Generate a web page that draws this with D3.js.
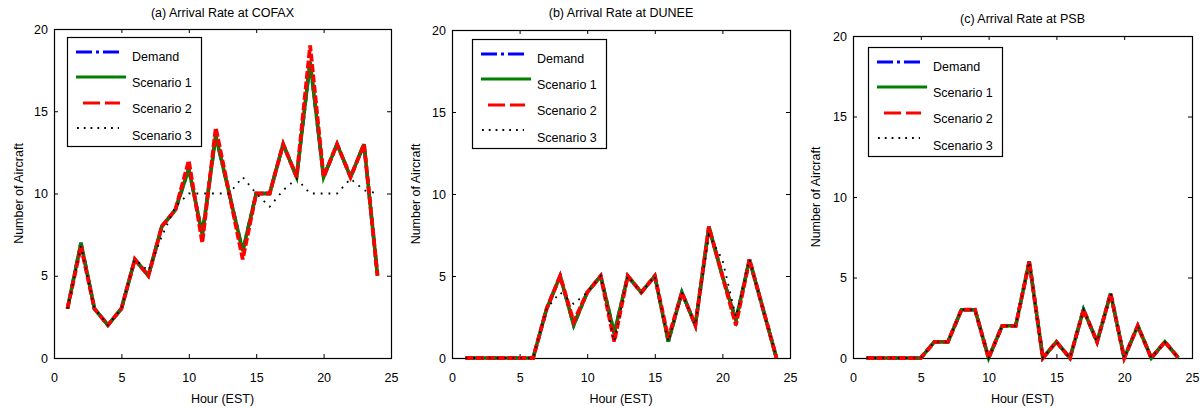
<!DOCTYPE html>
<html>
<head>
<meta charset="utf-8">
<script src="https://cdn.jsdelivr.net/npm/d3@7"></script>
<style>
  html, body { margin: 0; padding: 0; background: #fff; }
  svg { display: block; }
  text { font-family: "Liberation Sans", Arial, sans-serif; fill: #000; }
</style>
</head>
<body>
<svg id="chart" width="1202" height="410"></svg>
<script>
// ---------- DATA ----------
const hours = [1,2,3,4,5,6,7,8,9,10,11,12,13,14,15,16,17,18,19,20,21,22,23,24];
const xTicks = [0,5,10,15,20,25];
const yTicks = [0,5,10,15,20];
const seriesNames = ["Demand", "Scenario 1", "Scenario 2", "Scenario 3"];
const panelTitles = ["(a) Arrival Rate at COFAX", "(b) Arrival Rate at DUNEE", "(c) Arrival Rate at PSB"];
const xLabel = "Hour (EST)";
const yLabel = "Number of Aircraft";

// (a) COFAX
const demandA = [3,7,3,2,3,6,5,8,9,11.5,7.5,13.5,10,6.5,10,10,13,11,18,11,13,11,13,5];
const s1A     = [3,7,3,2,3,6,5,8,9,11.5,7.5,13.5,10,6.5,10,10,13,11,18,11,13,11,13,5];
const s2A     = [3,6.8,3,2,3,6,5,8,9,12,7,14,10,6,10,10,13,11,19,11,13,11,13,5];
const s3A     = [3,6.8,3,2,3,6,5.3,7.4,9.2,10,10,10,10,11,10,9.2,10.2,10.9,10,10,10,10.9,10.2,10];

// (b) DUNEE
const demandB = [0,0,0,0,0,0,3,5,2,4,5,1.5,5,4,5,1,4,2,8,5,2.3,6,3,0];
const s1B     = [0,0,0,0,0,0,3,5,2,4,5,1.5,5,4,5,1,4,2,8,5,2.3,6,3,0];
const s2B     = [0,0,0,0,0,0,3,5,2.2,4,5,1,5,4,5,1.2,4,2,8,5,2,6,3,0];
const s3B     = [0,0,0,0,0,0,3,4,3.3,4,5,1,5,4,5,1,4,2,7.5,6,2.5,6,3,0];

// (c) PSB
const demandC = [0,0,0,0,0,1,1,3,3,0,2,2,6,0,1,0,3,1,4,0,2,0,1,0];
const s1C     = [0,0,0,0,0,1,1,3,3,0,2,2,6,0,1,0,3,1,4,0,2,0,1,0];
const s2C     = [0,0,0,0,0,1,1,3,3,0,2,2,6,0,1,0,3,1,4,0,2,0,1,0];
const s3C     = [0,0,0,0,0,1,1,3,3,0,2,2,6,0,1,0,3,1,4,0,2,0,1,0];

// ---------- LAYOUT / STYLE ----------
const panels = [
  { title: panelTitles[0], series: [demandA, s1A, s2A, s3A],
    x0: 54, x1: 391, y0: 29, y1: 358, titleY: 16.5, yLabX: 18,
    leg: { x: 67, y: 37 } },
  { title: panelTitles[1], series: [demandB, s1B, s2B, s3B],
    x0: 452, x1: 790, y0: 30, y1: 358, titleY: 16.5, yLabX: 415,
    leg: { x: 472, y: 39 } },
  { title: panelTitles[2], series: [demandC, s1C, s2C, s3C],
    x0: 853, x1: 1192, y0: 36, y1: 358, titleY: 22.5, yLabX: 815,
    leg: { x: 868, y: 47 } }
];

const styles = [
  { color: "#0000ff", width: 3.4, dash: "10,4,3,4", legDash: "16,4,3,4" },
  { color: "#008000", width: 3.6, dash: null,       legDash: null },
  { color: "#ff0000", width: 3.8, dash: "8,2.5",    legDash: "17,5" },
  { color: "#000000", width: 1.8, dash: "1.8,6",    legDash: "1.8,5" }
];
const legLines = [
  { x1: 9, x2: 54 }, { x1: 9, x2: 59 }, { x1: 16, x2: 53 }, { x1: 10, x2: 52 }
];
const legLineY = [15, 40, 66, 91];
const legTextY = [19, 45, 71.5, 98];
const FS = "12.5px";

const svg = d3.select("#chart");

panels.forEach(p => {
  const g = svg.append("g");
  const x = d3.scaleLinear().domain([0, 25]).range([p.x0, p.x1]);
  const y = d3.scaleLinear().domain([0, 20]).range([p.y1, p.y0]);

  // axes with inward ticks
  const bottom = g.append("g").attr("transform", `translate(0,${p.y1})`)
    .call(d3.axisBottom(x).tickValues(xTicks).tickFormat(d3.format("d"))
      .tickSizeInner(-4).tickSizeOuter(0).tickPadding(15));
  const top = g.append("g").attr("transform", `translate(0,${p.y0})`)
    .call(d3.axisTop(x).tickValues(xTicks).tickFormat("")
      .tickSizeInner(-4).tickSizeOuter(0));
  const left = g.append("g").attr("transform", `translate(${p.x0},0)`)
    .call(d3.axisLeft(y).tickValues(yTicks).tickFormat(d3.format("d"))
      .tickSizeInner(-4).tickSizeOuter(0).tickPadding(6));
  const right = g.append("g").attr("transform", `translate(${p.x1},0)`)
    .call(d3.axisRight(y).tickValues(yTicks).tickFormat("")
      .tickSizeInner(-4).tickSizeOuter(0));
  [bottom, top, left, right].forEach(a => {
    a.select(".domain").remove();
    a.selectAll("line").attr("stroke", "#000").attr("stroke-width", 1);
    a.selectAll("text").style("font-size", FS).attr("fill", "#000")
      .style("font-family", '"Liberation Sans", Arial, sans-serif');
  });

  // frame
  g.append("rect")
    .attr("x", p.x0 + 0.5).attr("y", p.y0 + 0.5)
    .attr("width", p.x1 - p.x0).attr("height", p.y1 - p.y0)
    .attr("fill", "none").attr("stroke", "#000").attr("stroke-width", 1.2);

  // lines
  const line = d3.line().x((d, i) => x(hours[i])).y(d => y(d));
  p.series.forEach((vals, si) => {
    const st = styles[si];
    g.append("path").datum(vals)
      .attr("d", line)
      .attr("fill", "none")
      .attr("stroke", st.color)
      .attr("stroke-width", st.width)
      .attr("stroke-linejoin", "miter")
      .attr("stroke-dasharray", st.dash);
  });

  // titles and labels
  g.append("text").attr("x", (p.x0 + p.x1) / 2).attr("y", p.titleY)
    .attr("text-anchor", "middle").style("font-size", FS).text(p.title);
  g.append("text").attr("x", (p.x0 + p.x1) / 2).attr("y", 402.5)
    .attr("text-anchor", "middle").style("font-size", FS).text(xLabel);
  g.append("text")
    .attr("transform", `translate(${p.yLabX + 4.5},${(p.y0 + p.y1) / 2}) rotate(-90)`)
    .attr("text-anchor", "middle").style("font-size", FS).text(yLabel);

  // legend
  const lg = g.append("g").attr("transform", `translate(${p.leg.x},${p.leg.y})`);
  lg.append("rect").attr("x", 0.5).attr("y", 0.5).attr("width", 134).attr("height", 109)
    .attr("fill", "#fff").attr("stroke", "#000").attr("stroke-width", 1.2);
  seriesNames.forEach((name, i) => {
    const st = styles[i];
    lg.append("line")
      .attr("x1", legLines[i].x1).attr("x2", legLines[i].x2)
      .attr("y1", legLineY[i]).attr("y2", legLineY[i])
      .attr("stroke", st.color).attr("stroke-width", i === 3 ? 2 : 3)
      .attr("stroke-dasharray", st.legDash);
    lg.append("text").attr("x", 65).attr("y", legTextY[i] + 4.5)
      .style("font-size", FS).text(name);
  });
});
</script>
</body>
</html>
